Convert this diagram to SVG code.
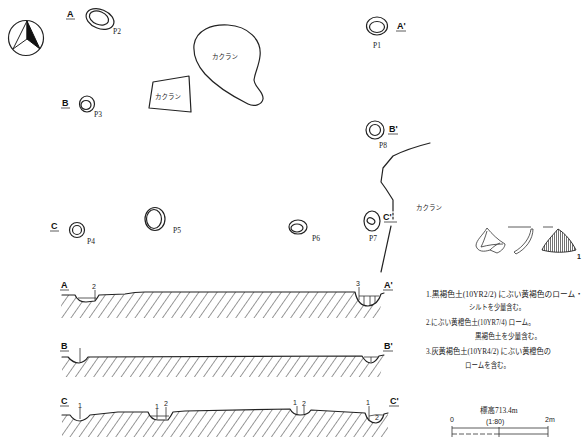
<svg xmlns="http://www.w3.org/2000/svg" width="584" height="437" viewBox="0 0 584 437">
  <defs>
    <style>
      .ln { fill: none; stroke: #222; stroke-width: 1.2; stroke-linecap: round; stroke-linejoin: round; }
      .thin { fill: none; stroke: #333; stroke-width: 0.8; }
      .lbl { font-family: "Liberation Sans", "Noto Sans CJK JP", sans-serif; font-weight: bold; font-size: 9px; fill: #111; }
      .pno { font-family: "Liberation Serif", serif; font-size: 7.5px; fill: #222; }
      .jp { font-family: "Noto Sans CJK JP", sans-serif; font-size: 6.5px; fill: #222; }
      .leg { font-family: "Liberation Serif", "Noto Sans CJK JP", serif; font-size: 7.5px; fill: #222; }
      .num { font-family: "Liberation Sans", sans-serif; font-size: 7px; fill: #222; }
      .hatch { fill: url(#diag); stroke: none; }
    </style>
    <pattern id="diag" width="7.5" height="8" patternUnits="userSpaceOnUse" patternTransform="rotate(35)">
      <line x1="0" y1="0" x2="0" y2="8" stroke="#333" stroke-width="1"/>
    </pattern>
    <pattern id="vhatch" width="2" height="4" patternUnits="userSpaceOnUse">
      <line x1="0.5" y1="0" x2="0.5" y2="4" stroke="#333" stroke-width="0.7"/>
    </pattern>
  </defs>

  <rect width="584" height="437" fill="#fff"/>

  <!-- north arrow -->
  <g id="north">
    <circle cx="26" cy="38" r="17.5" class="ln"/>
    <path d="M27,21 L13,49 L27,39 Z" fill="#fff" stroke="#222" stroke-width="1"/>
    <path d="M27,21 L40,49 L27,39 Z" fill="#111" stroke="#111" stroke-width="1"/>
  </g>

  <!-- disturbed areas (kakuran) -->
  <g id="kakuran-large">
    <path class="ln" d="M194,45 C196,30 212,24 228,25 C248,26 262,40 260,56 C259,66 255,72 254,80 C255,88 264,92 263,99 C262,105 254,107 248,104 C232,96 214,84 205,74 C198,66 193,56 194,45 Z"/>
    <text class="jp" x="212" y="59">カクラン</text>
  </g>
  <g id="kakuran-small">
    <path class="ln" d="M153,82 L189,76 L191,112 L149,108 Z"/>
    <text class="jp" x="155" y="99">カクラン</text>
  </g>
  <g id="kakuran-right">
    <path class="ln" d="M430,143 C418,146 405,150 393,156 L383,168 L381,182 L386,189 L393,200 L393,211"/>
    <line class="ln" x1="393" y1="213" x2="393" y2="220" stroke-dasharray="2,2"/>
    <path class="ln" d="M391,226 L381,272"/>
    <text class="jp" x="416" y="210">カクラン</text>
  </g>

  <!-- pits -->
  <g id="P1">
    <ellipse cx="377" cy="26" rx="10.5" ry="9" class="ln"/>
    <ellipse cx="377" cy="27" rx="7.5" ry="5.5" class="ln"/>
    <text class="pno" x="373" y="48">P1</text>
  </g>
  <g id="P2">
    <ellipse cx="100" cy="19" rx="14.5" ry="9.5" transform="rotate(22 100 19)" class="ln"/>
    <ellipse cx="99" cy="18" rx="10" ry="6.5" transform="rotate(22 99 18)" class="ln"/>
    <text class="pno" x="113" y="34">P2</text>
  </g>
  <g id="P3">
    <ellipse cx="87" cy="104" rx="7.5" ry="8" class="ln"/>
    <ellipse cx="86" cy="105" rx="5" ry="4.5" class="ln"/>
    <text class="pno" x="94" y="117">P3</text>
  </g>
  <g id="P4">
    <circle cx="77" cy="230" r="7.5" class="ln"/>
    <circle cx="77" cy="230" r="4.5" class="ln"/>
    <text class="pno" x="87" y="244">P4</text>
  </g>
  <g id="P5">
    <ellipse cx="155" cy="219" rx="10" ry="11.5" class="ln"/>
    <ellipse cx="154" cy="219" rx="7.5" ry="9.5" class="ln"/>
    <text class="pno" x="173" y="233">P5</text>
  </g>
  <g id="P6">
    <ellipse cx="298" cy="227" rx="9" ry="7" class="ln"/>
    <ellipse cx="297" cy="228" rx="6" ry="4" class="ln"/>
    <text class="pno" x="312" y="241">P6</text>
  </g>
  <g id="P7">
    <ellipse cx="372" cy="221" rx="8" ry="10" class="ln"/>
    <ellipse cx="371" cy="221" rx="4" ry="3" transform="rotate(30 371 221)" class="ln"/>
    <text class="pno" x="369" y="241">P7</text>
  </g>
  <g id="P8">
    <circle cx="375" cy="130" r="9" class="ln"/>
    <circle cx="375" cy="130" r="5.5" class="ln"/>
    <text class="pno" x="379" y="148">P8</text>
  </g>

  <!-- section line labels on the plan -->
  <g id="plan-labels">
    <text class="lbl" x="67" y="17">A</text>
    <line class="thin" x1="66" y1="19" x2="75" y2="19"/>
    <text class="lbl" x="397" y="29">A'</text>
    <line class="thin" x1="396" y1="31" x2="406" y2="31"/>
    <text class="lbl" x="62" y="106">B</text>
    <line class="thin" x1="61" y1="108" x2="70" y2="108"/>
    <text class="lbl" x="389" y="132">B'</text>
    <line class="thin" x1="388" y1="134" x2="398" y2="134"/>
    <text class="lbl" x="51" y="229">C</text>
    <line class="thin" x1="50" y1="231" x2="59" y2="231"/>
    <text class="lbl" x="383" y="220">C'</text>
    <line class="thin" x1="384" y1="222" x2="397" y2="222"/>
  </g>

  <!-- artifacts -->
  <g id="artifacts">
    <path class="thin" stroke-width="1" d="M487,228 C483,235 476,240 476,246 C478,252 484,252 490,250 L497,253 C502,251 505,247 505,244 C498,240 492,234 487,228 Z"/>
    <path class="thin" d="M487,231 C485,238 483,243 481,247 M481,247 C488,245 496,244 503,244 M490,250 C493,247 497,244 500,243"/>
    <line class="thin" x1="508" y1="227" x2="531" y2="227"/>
    <path class="thin" stroke-width="1" d="M531,229 C530,238 523,247 514,252 L516,254 C526,249 533,239 533,229 Z"/>
    <line class="thin" x1="543" y1="227" x2="553" y2="227"/>
    <path d="M558,229 C552,236 545,243 542,250 C553,253 566,253 576,250 C572,242 566,234 558,229 Z" fill="url(#vhatch)" stroke="#222" stroke-width="0.9"/>
    <text class="num" x="577" y="259" font-weight="bold">1</text>
  </g>

  <!-- section A-A' -->
  <g id="section-A">
    <path class="hatch" d="M62,295 L75,295 Q78,302 86,302 L95,301 Q98,297 99,295 L125,294 Q135,292 145,292 L355,292 Q358,306 368,306 Q378,305 381,294 L384,293 L378,318 L60,318 Z"/>
    <path class="ln" d="M62,295 L75,295 Q78,302 86,302 L95,301 Q98,297 99,295 L125,294 Q135,292 145,292 L355,292 Q358,306 368,306 Q378,305 381,294 L384,293"/>
    <line class="thin" x1="78" y1="298" x2="96" y2="298"/>
    <line class="thin" x1="95" y1="290" x2="95" y2="301"/>
    <path class="thin" d="M359,296 L379,296 M364,296 L364,305 M370,296 L370,306 M375,296 L375,304"/>
    <line class="thin" x1="359" y1="287" x2="359" y2="300"/>
    <text class="num" x="92" y="289">2</text>
    <text class="num" x="356" y="286">3</text>
    <text class="lbl" x="61" y="288">A</text>
    <line class="thin" x1="60" y1="290" x2="69" y2="290"/>
    <text class="lbl" x="384" y="288">A'</text>
    <line class="thin" x1="383" y1="290" x2="393" y2="290"/>
  </g>

  <!-- section B-B' -->
  <g id="section-B">
    <path class="hatch" d="M62,357 L68,357 Q73,363 79,363 Q85,362 88,357 L362,356 Q366,363 371,363 Q376,362 379,356 L384,355 L380,377 L62,377 Z"/>
    <path class="ln" d="M62,357 L68,357 Q73,363 79,363 Q85,362 88,357 L362,356 Q366,363 371,363 Q376,362 379,356 L384,355"/>
    <line class="thin" x1="80" y1="348" x2="80" y2="362"/>
    <line class="thin" x1="364" y1="357" x2="378" y2="357"/>
    <line class="thin" x1="371" y1="357" x2="371" y2="362"/>
    <text class="lbl" x="61" y="349">B</text>
    <line class="thin" x1="60" y1="351" x2="69" y2="351"/>
    <text class="lbl" x="384" y="349">B'</text>
    <line class="thin" x1="383" y1="351" x2="393" y2="351"/>
  </g>

  <!-- section C-C' -->
  <g id="section-C">
    <path class="hatch" d="M62,415 L70,415 Q74,421 80,421 Q86,420 90,415 L118,412 L148,412 Q151,420 158,420 L168,420 Q171,416 173,412 L185,411 L290,409 Q293,415 300,415 Q308,415 311,410 L365,413 Q368,423 376,423 Q382,422 384,414 L388,413 L388,437 L62,437 Z"/>
    <path class="ln" d="M62,415 L70,415 Q74,421 80,421 Q86,420 90,415 L118,412 L148,412 Q151,420 158,420 L168,420 Q171,416 173,412 L185,411 L290,409 Q293,415 300,415 Q308,415 311,410 L365,413 Q368,423 376,423 Q382,422 384,414 L388,413"/>
    <line class="thin" x1="80" y1="408" x2="80" y2="419"/>
    <line class="thin" x1="157" y1="409" x2="157" y2="419"/>
    <line class="thin" x1="166" y1="407" x2="166" y2="419"/>
    <line class="thin" x1="151" y1="416" x2="169" y2="416"/>
    <line class="thin" x1="297" y1="406" x2="297" y2="414"/>
    <line class="thin" x1="304" y1="406" x2="304" y2="414"/>
    <line class="thin" x1="369" y1="406" x2="369" y2="421"/>
    <path class="thin" d="M369,416 Q376,414 383,415"/>
    <text class="num" x="78" y="408">1</text>
    <text class="num" x="155" y="409">1</text>
    <text class="num" x="164" y="406">2</text>
    <text class="num" x="293" y="405">1</text>
    <text class="num" x="302" y="406">2</text>
    <text class="num" x="366" y="405">1</text>
    <text class="num" x="375" y="420" font-size="6">2</text>
    <text class="lbl" x="61" y="404">C</text>
    <line class="thin" x1="60" y1="406" x2="69" y2="406"/>
    <text class="lbl" x="390" y="404">C'</text>
    <line class="thin" x1="389" y1="406" x2="399" y2="406"/>
  </g>

  <!-- soil layer notes -->
  <g id="legend">
    <text class="leg" x="426" y="297" textLength="157" lengthAdjust="spacingAndGlyphs">1.黒褐色土(10YR2/2) にぶい黄褐色のローム・</text>
    <text class="leg" x="469" y="310" textLength="56" lengthAdjust="spacingAndGlyphs">シルトを少量含む。</text>
    <text class="leg" x="426" y="325" textLength="109" lengthAdjust="spacingAndGlyphs">2.にぶい黄橙色土(10YR7/4) ローム。</text>
    <text class="leg" x="475" y="339" textLength="66" lengthAdjust="spacingAndGlyphs">黒褐色土を少量含む。</text>
    <text class="leg" x="426" y="354" textLength="125" lengthAdjust="spacingAndGlyphs">3.灰黄褐色土(10YR4/2) にぶい黄橙色の</text>
    <text class="leg" x="465" y="368" textLength="45" lengthAdjust="spacingAndGlyphs">ロームを含む。</text>
  </g>

  <!-- scale bar -->
  <g id="scale">
    <text class="leg" x="480" y="413" font-size="8.5px" font-family="Noto Sans CJK JP, sans-serif">標高713.4m</text>
    <text class="num" x="450" y="422" font-size="7.5px">0</text>
    <text class="num" x="486" y="424" font-size="7.5px">(1:80)</text>
    <text class="num" x="545" y="422" font-size="7.5px">2m</text>
    <line class="thin" x1="452" y1="426" x2="452" y2="437" stroke-width="1.2"/>
    <line class="thin" x1="499" y1="427" x2="499" y2="437" stroke-width="1.2"/>
    <line class="thin" x1="548" y1="426" x2="548" y2="437" stroke-width="1.2"/>
    <line class="thin" x1="452" y1="428" x2="548" y2="428" stroke-width="1.2"/>
    <line class="thin" x1="452" y1="434" x2="499" y2="434" stroke-width="1.4" stroke-dasharray="5,2"/>
    <line class="thin" x1="499" y1="434" x2="548" y2="434" stroke-width="1"/>
  </g>
</svg>
